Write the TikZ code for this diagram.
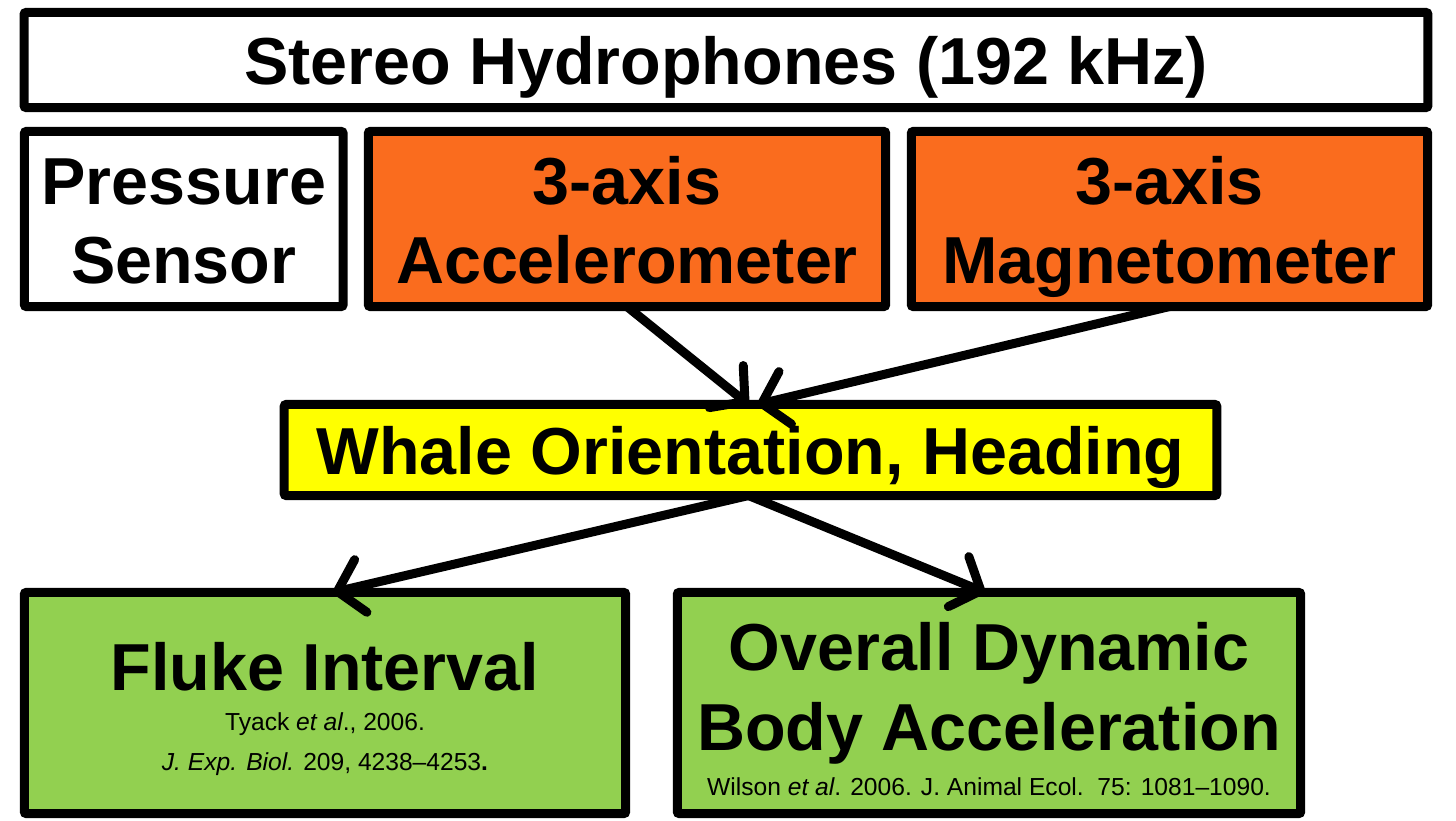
\documentclass[tikz,border=0pt]{standalone}
\usepackage{fontspec}
\setmainfont{Liberation Sans}
\usetikzlibrary{arrows.meta}
\definecolor{sensororange}{RGB}{250,108,30}
\definecolor{resultgreen}{RGB}{146,208,80}
\definecolor{hiyellow}{RGB}{255,255,0}
\begin{document}
\begin{tikzpicture}[x=0.01cm,y=-0.01cm,
  box/.style={draw=black, line width=0.09cm, rounded corners=0.02cm,
              inner sep=0pt, outer sep=0pt},
  big/.style={font=\fontsize{18.9}{22}\selectfont\bfseries, anchor=base, inner sep=0pt},
  small/.style={font=\fontsize{7.0}{8.5}\selectfont, anchor=base, inner sep=0pt},
  arr/.style={line width=0.09cm, line cap=round,
              -{Straight Barb[length=0.24cm, width=0.54cm, line cap=round, line join=round]}}]
\useasboundingbox (0,0) rectangle (1456,821);

% boxes
\node[box, fill=white, minimum width=14.03cm, minimum height=0.95cm] (hyd) at (726,60) {};
\node[box, fill=white, minimum width=3.185cm, minimum height=1.75cm] (prs) at (183.75,219) {};
\node[box, fill=sensororange, minimum width=5.17cm, minimum height=1.75cm] (acc) at (627,219) {};
\node[box, fill=sensororange, minimum width=5.16cm, minimum height=1.75cm] (mag) at (1169.5,219) {};
\node[box, fill=hiyellow, minimum width=9.32cm, minimum height=0.91cm] (yel) at (750.5,450) {};
\node[box, fill=resultgreen, minimum width=6.01cm, minimum height=2.21cm] (fluke) at (325,703) {};
\node[box, fill=resultgreen, minimum width=6.23cm, minimum height=2.21cm] (odba) at (989,703) {};

% labels
\node[big] (hydT) at (726,84) {Stereo Hydrophones (192 kHz)};
\node[big] (prsA) at (183.75,204) {Pressure};
\node[big] (prsB) at (183.75,284) {Sensor};
\node[big] (accA) at (627,204) {3-axis};
\node[big] (accB) at (627,284) {Accelerometer};
\node[big] (magA) at (1169.5,204) {3-axis};
\node[big] (magB) at (1169.5,284) {Magnetometer};
\node[big] (yelT) at (750.5,474) {Whale Orientation, Heading};
\node[big] (flkT) at (325,690) {Fluke Interval};
\node[small] (flkA) at (325,730) {Tyack \textit{et al}., 2006.};
\node[small] (flkB) at (325,770) {\textit{J. Exp. Biol.} 209, 4238–4253\textbf{.}};
\node[big] (odbA) at (989,670) {Overall Dynamic};
\node[big] (odbB) at (989,750) {Body Acceleration};
\node[small] (odbC) at (989,795) {Wilson \textit{et al}. 2006. J. Animal Ecol.\ \ 75: 1081–1090.};

% connectors
\draw[arr] (acc.south) -- ([xshift=-0.02cm]yel.north);
\draw[arr] (mag.south) -- ([xshift=0.07cm]yel.north);
\draw[arr] ([xshift=-0.02cm]yel.south) -- ([xshift=0.08cm]fluke.north);
\draw[arr] ([xshift=-0.02cm]yel.south) -- ([xshift=-0.04cm]odba.north);
\end{tikzpicture}
\end{document}
